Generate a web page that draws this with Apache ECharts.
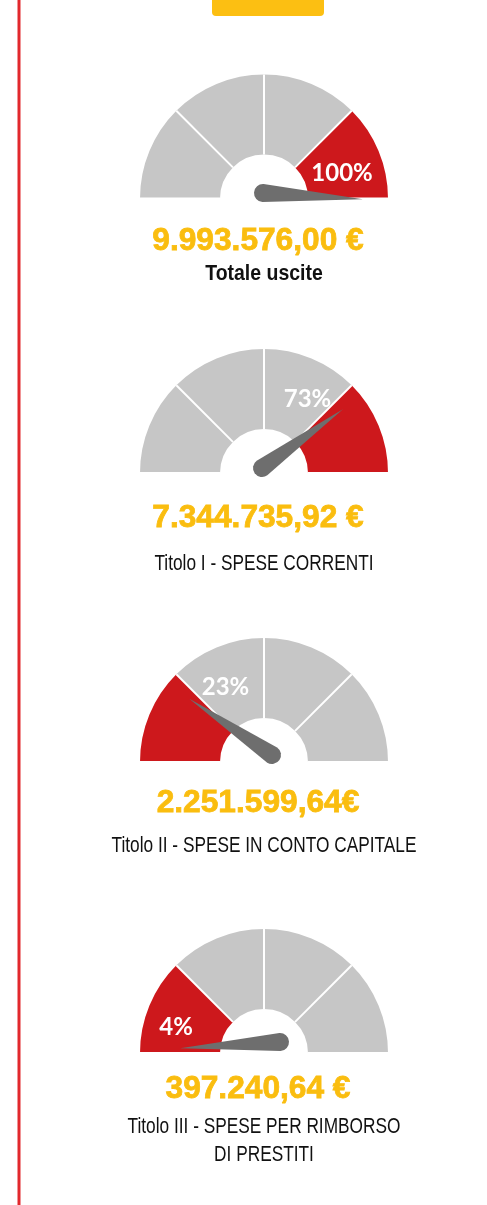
<!DOCTYPE html>
<html>
<head>
<meta charset="utf-8">
<style>
  html, body { margin: 0; padding: 0; background: #ffffff; }
  #chart { width: 487px; height: 1205px; }
</style>
<script src="https://cdn.jsdelivr.net/npm/echarts@6/dist/echarts.min.js"></script>
</head>
<body>
<div id="chart"></div>
<script>
// ---- data ----
const categories = [
  'Totale uscite',
  'Titolo I - SPESE CORRENTI',
  'Titolo II - SPESE IN CONTO CAPITALE',
  'Titolo III - SPESE PER RIMBORSO\nDI PRESTITI'
];
const amountLabels = ['9.993.576,00 €', '7.344.735,92 €', '2.251.599,64€', '397.240,64 €'];
const percentages = [100, 73, 23, 4];
const highlightedSegment = [4, 4, 1, 1];       // which quarter of the dial is red
const needleReadings = [102, 80, 19, -2];      // where the drawn needle points on a 0-100 dial

// ---- layout / style ----
const GRAY = '#c6c6c6', RED = '#cd181c', NEEDLE = '#6e6e6e', YELLOW = '#fabd0f';
const CX = 264;
const AMOUNT_X = 258;
const centerY = [198.5, 473, 762, 1053];
const pivot = [[263, 193], [262, 468], [272, 755], [280, 1042]];
const labelOffset = [[78, -25.5], [43.5, -74], [-38.5, -75], [-88, -25.5]];
const amountY = [241, 518.5, 803.5, 1089];
const titleY = [274, 564, 846, 1141];
const SANS = "'Liberation Sans', Arial, sans-serif";

const chart = echarts.init(document.getElementById('chart'), null, { renderer: 'canvas' });

const series = [];
percentages.forEach((p, i) => {
  const colors = [1, 2, 3, 4].map(k => [k / 4, k === highlightedSegment[i] ? RED : GRAY]);
  series.push({
    type: 'gauge',
    center: [CX, centerY[i]],
    radius: 124,
    startAngle: 180,
    endAngle: 0,
    min: 0,
    max: 100,
    splitNumber: 4,
    axisLine: { lineStyle: { width: 80, color: colors } },
    splitLine: { show: true, distance: -80, length: 80, lineStyle: { color: '#ffffff', width: 2 } },
    axisTick: { show: false },
    axisLabel: { show: false },
    pointer: { show: false },
    anchor: { show: false },
    title: { show: false },
    detail: {
      show: true,
      offsetCenter: labelOffset[i],
      formatter: '{value}%',
      color: '#ffffff',
      fontSize: 24,
      fontWeight: 'bold',
      fontFamily: 'Lato, sans-serif'
    },
    data: [{ value: p, name: categories[i] }]
  });
  series.push({
    type: 'gauge',
    center: pivot[i],
    radius: 124,
    startAngle: 198,
    endAngle: -18,
    min: -10,
    max: 110,
    axisLine: { show: false },
    splitLine: { show: false },
    axisTick: { show: false },
    axisLabel: { show: false },
    anchor: { show: false },
    title: { show: false },
    detail: { show: false },
    pointer: {
      show: true,
      icon: 'path://M10,0 L19,100 A9,9 0 0 1 1,100 Z',
      length: 109,
      width: 18,
      offsetCenter: [0, 9],
      itemStyle: { color: NEEDLE }
    },
    data: [{ value: needleReadings[i] }]
  });
});

const graphics = [
  { type: 'rect', shape: { x: 17.5, y: 0, width: 3, height: 1205 }, style: { fill: '#e2282d' } },
  { type: 'rect', shape: { x: 212, y: -6, width: 112, height: 22, r: 4 }, style: { fill: '#fcbf12' } }
];
amountLabels.forEach((a, i) => {
  graphics.push({
    type: 'text',
    x: AMOUNT_X, y: amountY[i], scaleX: 0.99,
    style: {
      x: 0, y: 0, text: a,
      fill: YELLOW, stroke: YELLOW, lineWidth: 0.8,
      font: 'bold 32px ' + SANS,
      textAlign: 'center', textVerticalAlign: 'middle'
    }
  });
  graphics.push({
    type: 'text',
    x: CX, y: titleY[i], scaleX: i === 0 ? 0.885 : 0.785,
    style: {
      x: 0, y: 0, text: categories[i],
      fill: '#111111', font: (i === 0 ? 'bold 22px ' : '22px ') + SANS,
      lineHeight: 28,
      textAlign: 'center', textVerticalAlign: 'middle'
    }
  });
});

chart.setOption({
  animation: false,
  backgroundColor: '#ffffff',
  series: series,
  graphic: graphics
});
</script>
</body>
</html>
